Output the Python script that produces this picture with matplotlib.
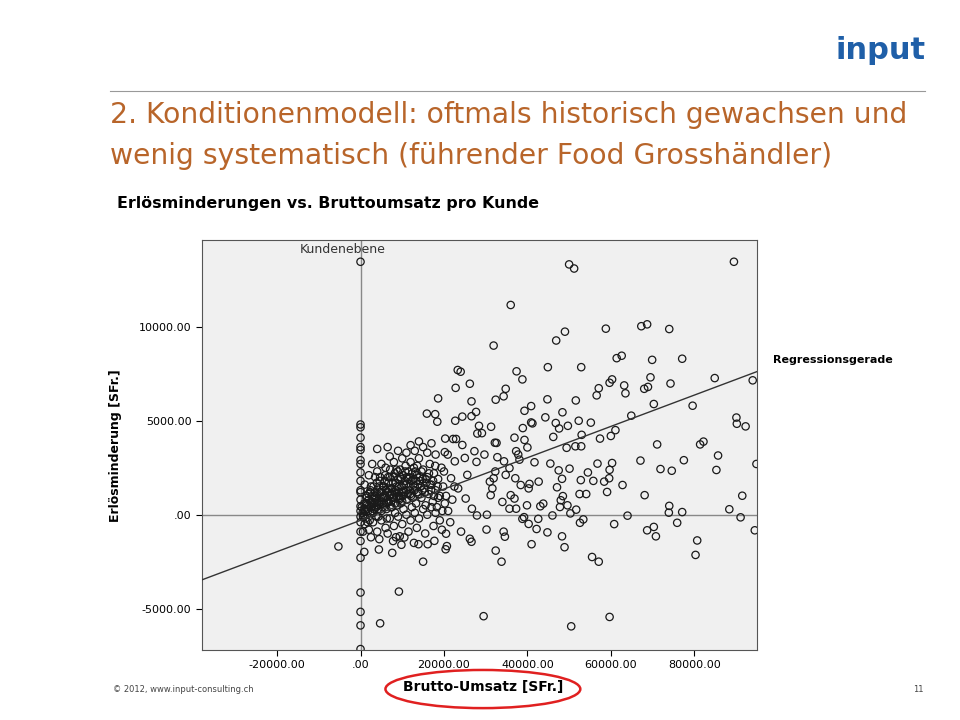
import matplotlib.pyplot as plt
from matplotlib.patches import Ellipse

# Scatter: outliers (Brutto-Umsatz, Erlösminderung) in SFr.
outlier_x = [0, 50000, 51200, 89500, 36000, 49000, 46900, 58800, 67300, 68700, 74000, 31900,
             61400, 62600, 69900, 77100, 44900, 52900, 23300, 24000, 37400, 38800, 84900, 94000,
             57100, 59700, 60300, 63200, 63500, 68000, 68900, 69500, 74300, 22800, 26200, 34800,
             18600, 32400, 34300, 44800, 51600, 56600, 26600, 70300, 79600, 40900, 39300, 64900,
             15900, 17900, 18400, 22700, 27700, 26600, 24400, 48400, 44300, 52300, 55200, 90100,
             90200, 92300, 40900, 41200, 46800, 47600, 49700, 61100, 60000, 57400, 46200, 53000,
             28400, 31300, 28000, 29100, 20300, 22200, 22900, 24400, 36900, 38900, 39300, 40000,
             49400, 51500, 52900, 71100, 81400, 82200, 85700, 67100, 77500, 71900, 74600, 85300,
             94900, 41700, 45500, 47500, 50100, 54500, 56800, 60300, 59700, 59600, 58400, 62800,
             68100, 91500, 55800, 52800, 52500, 54100, 59100, 48300, 47100, 48500, 49600, 51700,
             50300, 64000, 74000, 73900, 77100, 88400, 91100, 94500, 75900, 70300, 68700, 70800,
             80700, 80300, 60800, 53400, 52600, 55500, 57100, 48900, 48300, 44800, 41000, 42200,
             40300, 38800, 33800, 32400, 30200, 34600, 34300, 29500, 59700, 50500, 9200, 4700,
             -5300, 0, 0, 0, 0, 0, 900, 4400, 7600, 15000, 20400, 20700, 26600, 26200, 24100,
             20500, 17700, 16100, 13900, 10500, 9400]
outlier_y = [13460, 13320, 13100, 13460, 11160, 9740, 9270, 9900, 10030, 10130, 9880, 9000,
             8330, 8460, 8240, 8300, 7850, 7850, 7700, 7610, 7630, 7200, 7270, 7150,
             6730, 7020, 7200, 6880, 6460, 6700, 6800, 7310, 6980, 6750, 6970, 6700,
             6190, 6120, 6300, 6140, 6080, 6350, 6030, 5890, 5800, 5780, 5530, 5270,
             5380, 5350, 4950, 5000, 5470, 5240, 5220, 5450, 5180, 5000, 4900, 5170,
             4840, 4700, 4910, 4860, 4880, 4590, 4730, 4500, 4190, 4050, 4140, 4250,
             4730, 4680, 4320, 4340, 4050, 4030, 4030, 3710, 4100, 4610, 3980, 3580,
             3560, 3640, 3640, 3740, 3740, 3890, 3150, 2880, 2900, 2430, 2340, 2380,
             2700, 2790, 2720, 2360, 2450, 2250, 2720, 2750, 2390, 1940, 1760, 1580,
             1040, 1010, 1800, 1840, 1100, 1100, 1210, 1910, 1460, 990, 500, 270,
             70, -50, 470, 110, 140, 290, -140, -830, -430, -650, -830, -1150,
             -1370, -2140, -500, -250, -430, -2250, -2500, -1730, -1150, -940, -1570, -760,
             -490, -220, -2500, -1910, -790, -1170, -900, -5400, -5440, -5940, -4090, -5780,
             -1690, -4140, -5170, -5890, -7150, -2290, -1980, -1850, -2030, -2500, -1840, -1670,
             -1440, -1280, -900, -1010, -1390, -1570, -1570, -1210, -1150]

middle_x = [27300, 27800, 29700, 32200, 32600, 32800, 34400, 35700, 37300, 37800, 38100, 34800,
            37100, 32300, 31900, 31000, 31600, 31200, 36000, 36900, 34000, 35700, 37300, 39200,
            27900, 30300, 26700, 25200, 23400, 21700, 25600, 25000, 22600, 20000, 20900, 20200,
            42700, 40500, 43100, 43800, 42600, 46000, 47800, 48000, 39900, 40300, 38400]
middle_y = [3380, 2810, 3200, 3830, 3820, 3060, 2840, 2480, 3380, 3200, 2930, 2120,
            1940, 2300, 1940, 1760, 1400, 1040, 1040, 860, 680, 320, 320, -130,
            -40, 0, 320, 860, 1400, 1940, 2120, 3020, 2840, 2300, 3200, 3330,
            1760, 1640, 450, 590, -220, -40, 410, 770, 500, 1400, 1580]

cluster_x = [500, 800, 1200, 1500, 1800, 2000, 2200, 2500, 2800, 3000, 3200, 3500, 3800, 4000,
             4200, 4500, 4800, 5000, 5200, 5500, 5800, 6000, 6200, 6500, 6800, 7000, 7200, 7500,
             7800, 8000, 8200, 8500, 8800, 9000, 9200, 9500, 9800, 10000, 10200, 10500, 10800,
             11000, 11200, 11500, 11800, 12000, 12200, 12500, 12800, 13000, 13300, 13500, 13800,
             14000, 14300, 14600, 15000, 15300, 15600, 16000, 16300, 16600, 17000, 17300, 17600,
             18000, 18300, 18600, 19000, 19400, 19800, 20200,
             1000, 2000, 3000, 4000, 5000, 6000, 7000, 8000, 9000, 10000, 11000, 12000, 13000,
             14000, 15000, 16000, 17000, 18000, 19000, 2500, 4500, 6500, 8500, 11500, 13500,
             15500, 17500, 19500,
             1500, 2500, 3500, 4000, 5000, 6000, 7000, 8000, 9000, 10000, 11000, 12000, 13000,
             14000, 15000, 16000, 17000, 18000, 6500, 4000, 2800,
             3300, 4300, 5300, 6300, 7300, 8300, 9300, 10300, 11300, 12300, 1000, 2000, 600,
             7800, 9800, 12800,
             1300, 2300, 3600, 4600, 5600, 6600, 7600, 8600, 9600, 10600, 11600, 12600, 13600,
             14600, 15600, 16600, 17600, 18600, 19600, 20500, 21000, 21500, 22000, 22500,
             0, 0, 0, 0, 0, 0, 0, 0, 0, 0, 0, 0, 0, 0, 0, 0, 0, 0]
cluster_y = [100, 300, -200, 500, 200, 800, -300, 400, 1000, 100, 600, 1200, -100, 700,
             300, 1500, 900, 200, 1300, 600, 1800, 1000, 300, 1400, 700, 2000, 1100, 400,
             1700, 900, 2200, 1300, 500, 1900, 1000, 2400, 1500, 700, 2100, 1200, 2600,
             1600, 800, 2300, 1300, 2800, 1800, 900, 2500, 1500, 600, 2100, 1200,
             3000, 1800, 900, 2400, 1400, 500, 2000, 1100, 2700, 1600, 700, 2200,
             1300, 400, 1900, 1000, 2500, 1500, 600,
             -500, -800, -400, -900, -300, -700, -200, -600, -100, -500, 0, -300, 100,
             -200, 300, 0, 400, 100, -300, -1200, -1300, -1000, -1200, -900, -700,
             -1000, -600, -800,
             1000, 1500, 2000, 2300, 2700, 2500, 3100, 2800, 3400, 3000, 3300, 3700, 3400,
             3900, 3600, 3300, 3800, 3200, 3600, 3500, 2700,
             300, -100, 900, -200, 700, 100, 800, 300, 1100, 400, 1600, 2100, -900,
             -1400, -1600, -1500,
             600, 1200, 800, 1800, 1500, 2000, 1400, 2400, 2000, 1800, 2000, 1600, 2600,
             2300, 1900, 1600, 1000, 900, 200, 1000, 200, -400, 800, 1500,
             4800, 4650, 4100, 3600, 3450, 2900, 2700, 2250, 1800, 1300, 1200, 800, 450,
             200, -100, -400, -900, -1400]

# extra points of the dense core near the origin
core_x = [300, 700, 900, 1100, 1400, 1600, 1900, 2100, 2400, 2600, 2900, 3100, 3400, 3700,
          3900, 4100, 4400, 4700, 4900, 5100, 5400, 5700, 5900, 6100, 6400, 6700, 6900, 7100,
          7400, 7700, 7900, 8100, 8400, 8700, 8900, 9100, 9400, 9700, 9900, 10400, 10900,
          11400, 11900, 12400, 12900, 13400, 13900, 14400, 14900, 15400,
          600, 1000, 1700, 2300, 2700, 3300, 3600, 4300, 4600, 5300, 5600, 6300, 6600, 7300,
          7600, 8300, 8600, 9300, 9600, 10100, 10700, 11100, 11700, 12100, 12700, 13100,
          13700, 14200, 14800, 15800, 16400, 16900, 17400, 17900, 18500]
core_y = [400, 0, 600, 200, 900, 300, 1100, 500, 1300, 700, 200, 1500, 900, 400,
          1700, 1100, 600, 2000, 1200, 700, 1500, 900, 2100, 1300, 800, 1700, 1000, 2400,
          1400, 900, 2000, 1200, 1700, 1000, 2300, 1500, 900, 1900, 1200, 1600, 1300,
          1900, 1100, 2200, 1300, 1800, 1100, 1500, 1900, 1200,
          -100, 200, -400, 100, 600, 400, 1000, 500, 1200, 400, 1000, 600, 1200, 400,
          1100, 600, 1500, 1200, 600, 1000, 2300, 2000, 1500, 1000, 1900, 2300,
          1600, 2000, 1300, 1700, 2200, 1300, 1800, 2600, 1500]

reg_slope = 0.0833
reg_intercept = -300
x_ticks = [-20000, 0, 20000, 40000, 60000, 80000]
y_ticks = [-5000, 0, 5000, 10000]
x_range = (-38000, 95000)
y_range = (-7200, 14600)

fig = plt.figure(figsize=(9.6, 7.2), dpi=100)
ax = fig.add_axes([0.2104, 0.0972, 0.578, 0.569])
ax.set_facecolor("#f0f0f0")

xs = outlier_x + middle_x + cluster_x + core_x
ys = outlier_y + middle_y + cluster_y + core_y
ax.scatter(xs, ys, s=28, facecolors="none", edgecolors="#1a1a1a", linewidths=0.9, zorder=3)
ax.axvline(0, color="#888888", lw=1, zorder=2)
ax.axhline(0, color="#888888", lw=1, zorder=2)
ax.plot(x_range, [reg_slope * v + reg_intercept for v in x_range], color="#333333", lw=1, zorder=4)

ax.set_xlim(*x_range)
ax.set_ylim(*y_range)
ax.set_xticks(x_ticks)
ax.set_xticklabels([".00" if v == 0 else f"{v:.2f}" for v in x_ticks], fontsize=8)
ax.set_yticks(y_ticks)
ax.set_yticklabels([".00" if v == 0 else f"{v:.2f}" for v in y_ticks], fontsize=8)
ax.tick_params(length=4)
for sp in ax.spines.values():
    sp.set_color("#555555")
ax.text(-14500, 13900, "Kundenebene", fontsize=9, color="#333333")
ax.set_ylabel("Erlösminderung [SFr.]", fontsize=9, fontweight="bold", labelpad=12)

# slide decorations
fig.text(0.964, 0.93, "input", fontsize=22, fontweight="bold", color="#1f5fa8", ha="right", va="center")
fig.add_artist(plt.Line2D([0.115, 0.964], [0.874, 0.874], color="#999999", lw=0.8))
fig.text(0.115, 0.84, "2. Konditionenmodell: oftmals historisch gewachsen und", fontsize=20.3,
         color="#b8652a", va="center")
fig.text(0.115, 0.784, "wenig systematisch (führender Food Grosshändler)", fontsize=20.3,
         color="#b8652a", va="center")
fig.text(0.122, 0.718, "Erlösminderungen vs. Bruttoumsatz pro Kunde", fontsize=11.4, fontweight="bold", va="center")
fig.text(0.805, 0.5, "Regressionsgerade", fontsize=8, fontweight="bold", va="center")
fig.text(0.503, 0.046, "Brutto-Umsatz [SFr.]", fontsize=10, fontweight="bold", ha="center", va="center")
fig.add_artist(Ellipse((0.503, 0.043), 0.203, 0.053, transform=fig.transFigure,
                       fill=False, edgecolor="#e02020", lw=1.8))
fig.text(0.118, 0.042, "© 2012, www.input-consulting.ch", fontsize=6, color="#444444", va="center")
fig.text(0.962, 0.042, "11", fontsize=6, color="#444444", ha="right", va="center")

fig.savefig("out.png", dpi=100)
